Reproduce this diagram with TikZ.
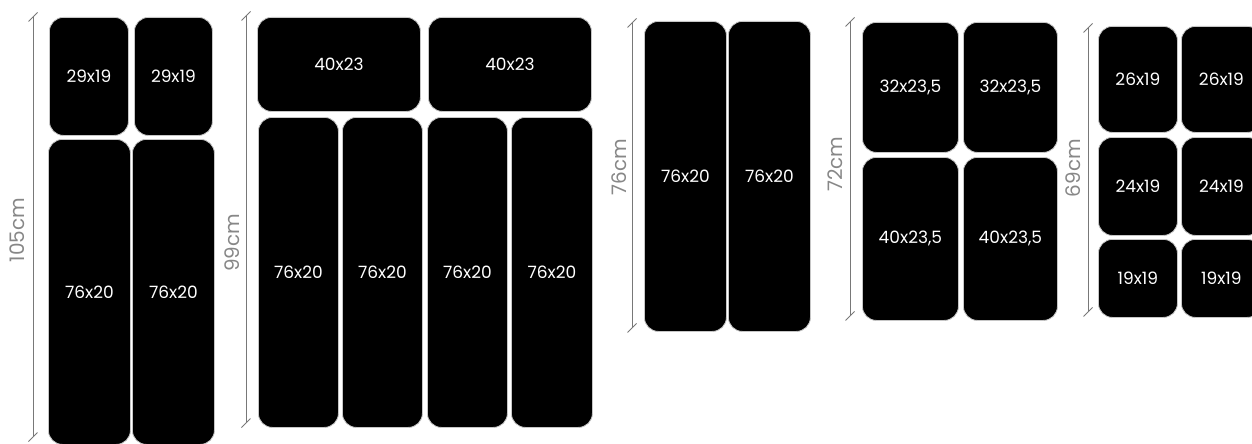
\documentclass[tikz,border=0pt]{standalone}
\usepackage{fontspec}
\newfontfamily\tilefont{Poppins}
\usetikzlibrary{positioning}
\definecolor{DimGray}{RGB}{120,120,120}
\definecolor{LabelGray}{RGB}{135,135,135}
\begin{document}
\begin{tikzpicture}[x=1pt,y=-1pt,
  tile/.style={fill=black,draw=gray!45,line width=0.8pt,rounded corners=14pt,text=white,
    font=\tilefont\fontsize{17}{17}\selectfont,inner sep=0pt,anchor=north west},
  dimline/.style={draw=DimGray,line width=0.9pt},
  dimtick/.style={draw=DimGray,line width=0.9pt},
  dimlabel/.style={text=LabelGray,font=\tilefont\fontsize{20}{20}\selectfont,rotate=90,inner sep=0pt}]
\clip (0,0) rectangle (1252,444);
% group 1
\node[tile,minimum width=79,minimum height=118] (a1) at (49,17) {29x19};
\node[tile,minimum width=78,minimum height=118] (a2) at (134,17) {29x19};
\node[tile,minimum width=82,minimum height=305] (a3) at (48,139) {76x20};
\node[tile,minimum width=82,minimum height=305] (a4) at (132,139) {76x20};
% group 2
\node[tile,minimum width=163,minimum height=94] (b1) at (257,17) {40x23};
\node[tile,minimum width=163,minimum height=94] (b2) at (428,17) {40x23};
\node[tile,minimum width=80,minimum height=310] (b3) at (258,117) {76x20};
\node[tile,minimum width=80,minimum height=310] (b4) at (342,117) {76x20};
\node[tile,minimum width=80,minimum height=310] (b5) at (427,117) {76x20};
\node[tile,minimum width=81,minimum height=310] (b6) at (511,117) {76x20};
% group 3
\node[tile,minimum width=82,minimum height=310] (c1) at (644,21) {76x20};
\node[tile,minimum width=82,minimum height=310] (c2) at (728,21) {76x20};
% group 4
\node[tile,minimum width=96,minimum height=130] (d1) at (862,22) {32x23,5};
\node[tile,minimum width=94,minimum height=130] (d2) at (963,22) {32x23,5};
\node[tile,minimum width=96,minimum height=163] (d3) at (862,157) {40x23,5};
\node[tile,minimum width=94,minimum height=163] (d4) at (963,157) {40x23,5};
% group 5
\node[tile,minimum width=79,minimum height=106] (e1) at (1098,26) {26x19};
\node[tile,minimum width=80,minimum height=106] (e2) at (1181,26) {26x19};
\node[tile,minimum width=79,minimum height=98] (e3) at (1098,137) {24x19};
\node[tile,minimum width=80,minimum height=98] (e4) at (1181,137) {24x19};
\node[tile,minimum width=79,minimum height=78] (e5) at (1098,239) {19x19};
\node[tile,minimum width=80,minimum height=78] (e6) at (1181,239) {19x19};
% dimension lines
\coordinate (m1t) at (33,17);\coordinate (m1b) at (33,437);
\coordinate (m2t) at (246,16);\coordinate (m2b) at (246,423);
\coordinate (m3t) at (632,23);\coordinate (m3b) at (632,328);
\coordinate (m4t) at (850,22);\coordinate (m4b) at (850,316);
\coordinate (m5t) at (1088,28);\coordinate (m5b) at (1088,312);
\foreach \m in {1,...,5}{
  \draw[dimline] (m\m t)--(m\m b);
  \draw[dimtick] (m\m t) ++(-4.5,4.5)--++(9,-9);
  \draw[dimtick] (m\m b) ++(-4.5,4.5)--++(9,-9);
}
\node[dimlabel] (l1) at (17,230) {105cm};
\node[dimlabel] (l2) at (232,243) {99cm};
\node[dimlabel] (l3) at (619,167) {76cm};
\node[dimlabel] (l4) at (835,164) {72cm};
\node[dimlabel] (l5) at (1073,168) {69cm};
\end{tikzpicture}
\end{document}
